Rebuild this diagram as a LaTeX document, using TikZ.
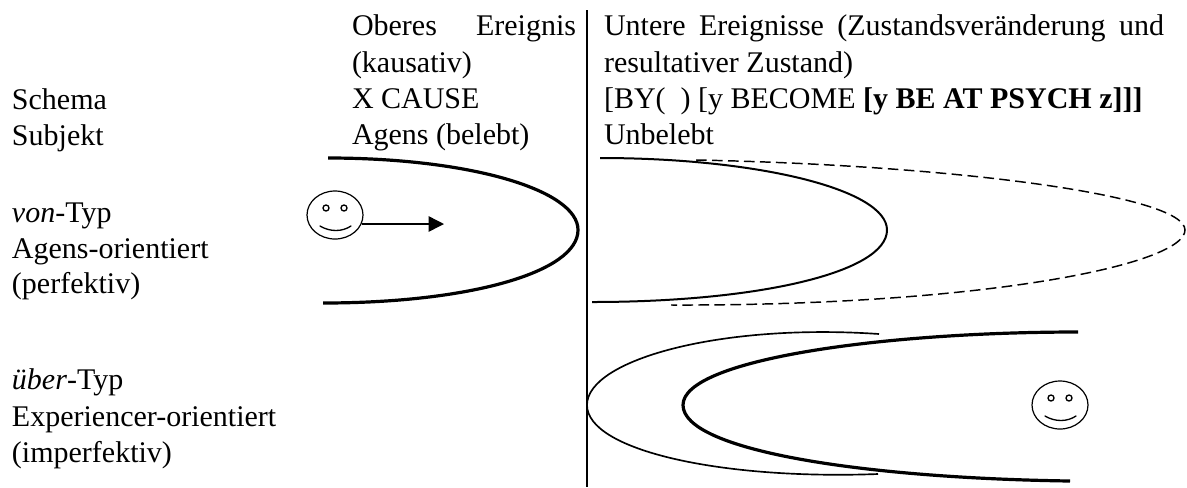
\documentclass[tikz,border=0pt]{standalone}
\usepackage{fontspec}
\setmainfont{Liberation Serif}
\usetikzlibrary{shapes.geometric,arrows.meta}
\tikzset{
 txt/.style={anchor=base west,inner sep=0pt,outer sep=0pt,font=\fontsize{22.5}{27}\selectfont},
 face/.style={draw,ellipse,minimum width=42pt,minimum height=36pt,inner sep=0pt,line width=0.9pt},
 eye/.style={draw,circle,minimum size=4.5pt,inner sep=0pt,line width=1pt},
 thin curve/.style={line width=1.25pt},
 med curve/.style={line width=1.5pt},
 thick curve/.style={line width=2.4pt},
 smile/.style={line width=1pt,line cap=round}
}
\begin{document}
\begin{tikzpicture}[x=0.75pt,y=-0.75pt]
\useasboundingbox (0,0) rectangle (1187,487);
\coordinate (vt) at (587,10); \coordinate (vb) at (587,487);
\draw[line width=1.1pt] (vt) -- (vb);
% texts
\node[txt] (t1) at (352,35) {\makebox[168pt][s]{Oberes Ereignis}};
\node[txt] (t2) at (352,72) {(kausativ)};
\node[txt] (t3) at (352,108) {X CAUSE};
\node[txt] (t4) at (352,144) {Agens (belebt)};
\node[txt] (u1) at (604,35) {\makebox[420pt][s]{Untere Ereignisse (Zustandsveränderung und}};
\node[txt] (u2) at (604,72) {resultativer Zustand)};
\node[txt] (u3) at (604,108) {[BY(\ \ ) [y BECOME \textbf{[y BE AT PSYCH z]]]}};
\node[txt] (u4) at (604,144) {Unbelebt};
\node[txt] (l1) at (12,109) {Schema};
\node[txt] (l2) at (12,145) {Subjekt};
\node[txt] (l3) at (12,222) {\textit{von}-Typ};
\node[txt] (l4) at (12,258) {Agens-orientiert};
\node[txt] (l5) at (12,293) {(perfektiv)};
\node[txt] (l6) at (12,389) {\textit{über}-Typ};
\node[txt] (l7) at (12,426) {Experiencer-orientiert};
\node[txt] (l8) at (12,462) {(imperfektiv)};
% curves
\draw[thick curve] (328,158) .. controls (470,158) and (578,190) .. (578,230) .. controls (578,272) and (470,303) .. (323,303);
\draw[med curve] (600,158) .. controls (760,158) and (887,190) .. (887,230) .. controls (887,272) and (760,302) .. (592,302);
\draw[line width=1.1pt,dash pattern=on 8pt off 4pt] (696,160) .. controls (950,165) and (1185,195) .. (1185,230) .. controls (1185,265) and (980,306) .. (671,305);
\draw[thin curve] (879,334) .. controls (720,323) and (587,360) .. (587,405) .. controls (587,450) and (720,480) .. (878,474);
\draw[thick curve] (1078,332) .. controls (880,332) and (683,360) .. (683,405) .. controls (683,450) and (860,478) .. (1070,481);
% smileys
\node[face] (f1) at (335,215) {};
\node[eye] (e1) at (326,208) {}; \node[eye] (e2) at (344,208) {};
\draw[smile] (320,226) .. controls (330,232) and (342,232) .. (351,226);
\coordinate (ah) at (444,224);
\draw[line width=1.1pt,-{Triangle[length=11.5pt,width=11.5pt]}] (f1.center |- ah) ++(27,0) -- (ah);
\node[face] (f2) at (1060,405) {};
\node[eye] (e3) at (1051,398) {}; \node[eye] (e4) at (1069,398) {};
\draw[smile] (1045,416) .. controls (1055,422) and (1067,422) .. (1076,416);
\end{tikzpicture}
\end{document}
